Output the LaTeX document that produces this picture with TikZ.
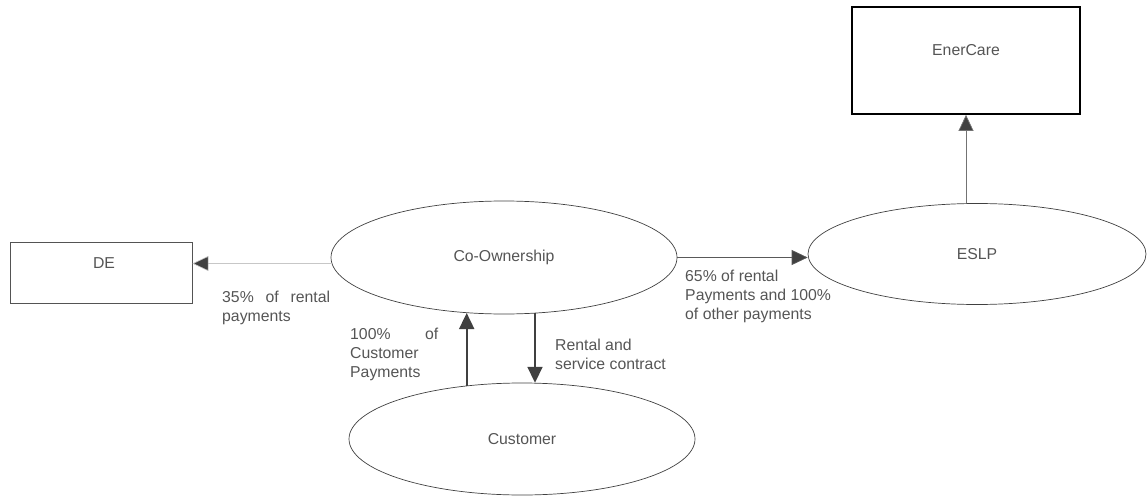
\documentclass[tikz,border=0pt]{standalone}
\usepackage{fontspec}
\setmainfont{Liberation Sans}
\usetikzlibrary{shapes.geometric,arrows.meta}
\definecolor{txt}{HTML}{555555}
\definecolor{edge}{HTML}{404040}
\begin{document}
\begin{tikzpicture}[x=1pt,y=-1pt,
  font=\fontsize{15.8}{19}\selectfont, text=txt,
  ell/.style={draw=edge, ellipse, inner sep=0pt, line width=0.7pt},
  box/.style={draw=#1, rectangle, inner sep=0pt},
  tip/.style={-{Triangle[length=16pt,width=15pt,fill=edge]}},
  lbl/.style={align=left, anchor=north west, inner sep=0pt}]
\useasboundingbox (0,0) rectangle (1147,497);
% nodes
\node[ell, minimum width=346pt, minimum height=113pt] (co) at (504,257.5) {Co-Ownership};
\node[ell, minimum width=338pt, minimum height=101pt] (eslp) at (977,254) {ESLP};
\node[ell, minimum width=346pt, minimum height=112pt] (cust) at (522,439) {Customer};
\node[box=edge!90, line width=0.9pt, minimum width=182pt, minimum height=61pt] (de) at (101,272.5) {};
\node (detext) at (104,263) {DE};
\node[box=black, line width=1.8pt, minimum width=228pt, minimum height=107pt] (ener) at (966,60.5) {};
\node (enertext) at (966,50) {EnerCare};
% connectors
\draw[tip, draw=black!22, line width=0.6pt] (co.182.5) -- (co.182.5 -| de.east);
\draw[tip, draw=black!65, line width=0.7pt] (co.east) -- (co.east -| eslp.west);
\draw[tip, draw=black!55, line width=0.7pt] (eslp.north -| ener.south) -- (ener.south);
\draw[tip, draw=edge, line width=1.8pt] (cust.136) -- (cust.136 |- co.236);
\draw[tip, draw=edge, line width=1.8pt] (co.299) -- (co.299 |- cust.77);
% labels
\node[lbl] (l1) at (222,291) {\makebox[108pt][s]{35\% of rental}\\payments};
\node[lbl] (l2) at (685,269.5) {65\% of rental\\Payments and 100\%\\of other payments};
\node[lbl] (l3) at (350,328) {\makebox[88pt][s]{100\% of}\\Customer\\Payments};
\node[lbl] (l4) at (555,339) {Rental and\\service contract};
\end{tikzpicture}
\end{document}
